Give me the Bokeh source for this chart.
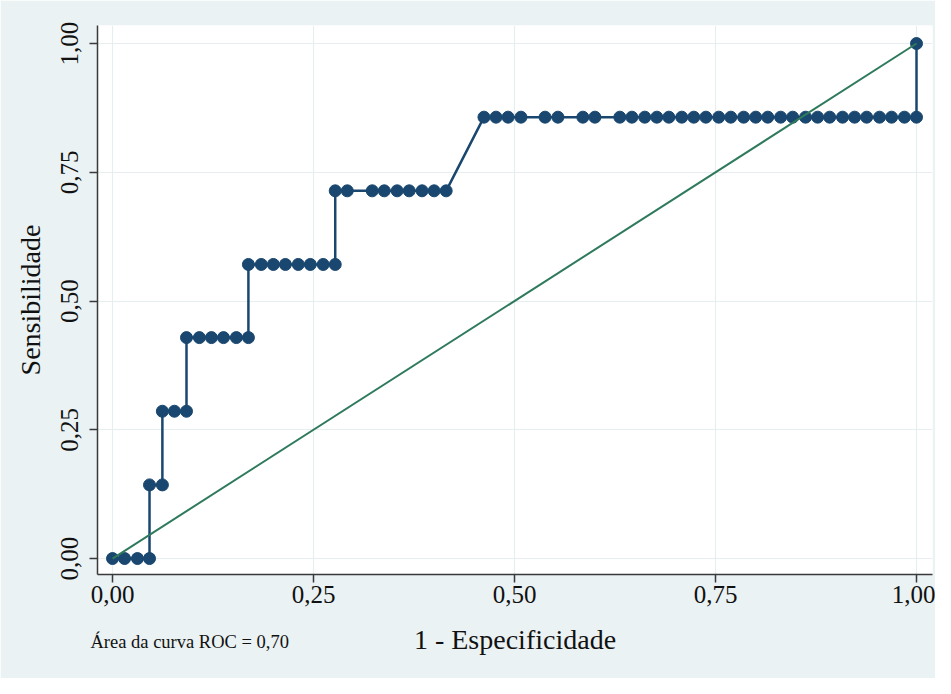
from bokeh.plotting import figure
from bokeh.models import Range1d, FixedTicker, CustomJSTickFormatter, Title
from bokeh.embed import file_html
from bokeh.resources import INLINE

# ROC curve points (1 - specificity, sensitivity)
one_minus_spec = [
    0.000, 0.015, 0.031, 0.046,
    0.046, 0.062,
    0.062, 0.077, 0.092,
    0.092, 0.108, 0.123, 0.138, 0.154, 0.169,
    0.169, 0.185, 0.200, 0.215, 0.231, 0.246, 0.262, 0.277,
    0.277, 0.292, 0.323, 0.338, 0.354, 0.369, 0.385, 0.400, 0.415,
    0.462, 0.477, 0.492, 0.508, 0.538, 0.554, 0.585, 0.600,
    0.631, 0.646, 0.662, 0.677, 0.692, 0.708, 0.723, 0.738, 0.754, 0.769,
    0.785, 0.800, 0.815, 0.831, 0.846, 0.862, 0.877, 0.892, 0.908, 0.923,
    0.938, 0.954, 0.969, 0.985, 1.000,
    1.000,
]
sensitivity = [
    0.000, 0.000, 0.000, 0.000,
    0.143, 0.143,
    0.286, 0.286, 0.286,
    0.429, 0.429, 0.429, 0.429, 0.429, 0.429,
    0.571, 0.571, 0.571, 0.571, 0.571, 0.571, 0.571, 0.571,
    0.714, 0.714, 0.714, 0.714, 0.714, 0.714, 0.714, 0.714, 0.714,
    0.857, 0.857, 0.857, 0.857, 0.857, 0.857, 0.857, 0.857,
    0.857, 0.857, 0.857, 0.857, 0.857, 0.857, 0.857, 0.857, 0.857, 0.857,
    0.857, 0.857, 0.857, 0.857, 0.857, 0.857, 0.857, 0.857, 0.857, 0.857,
    0.857, 0.857, 0.857, 0.857, 0.857,
    1.000,
]
ref_x = [0.0, 1.0]
ref_y = [0.0, 1.0]
tick_values = [0, 0.25, 0.5, 0.75, 1]
tick_labels = ["0,00", "0,25", "0,50", "0,75", "1,00"]
x_title = "1 - Especificidade"
y_title = "Sensibilidade"
note_text = "Área da curva ROC = 0,70"

NAVY = "#1A476F"
GREEN = "#2F7A5C"
BG = "#EAF2F3"
FONT = "Liberation Serif"

p = figure(width=935, height=678, output_backend="svg", toolbar_location=None,
           x_range=Range1d(-0.0187, 1.0199), y_range=Range1d(-0.031, 1.035),
           min_border_left=97, min_border_right=3, min_border_top=25,
           min_border_bottom=104)
p.border_fill_color = BG
p.background_fill_color = "white"
p.outline_line_color = None

fmt = CustomJSTickFormatter(args=dict(tv=tick_values, tl=tick_labels),
                            code="""
    for (let i = 0; i < tv.length; i++) {
        if (Math.abs(tv[i] - tick) < 1e-9) return tl[i];
    }
    return '';
""")

for ax in (p.xaxis[0], p.yaxis[0]):
    ax.ticker = FixedTicker(ticks=tick_values)
    ax.formatter = fmt
    ax.minor_tick_line_color = None
    ax.major_tick_in = 0
    ax.major_tick_out = 8
    ax.axis_line_color = "#3a3a3a"
    ax.axis_line_width = 1.5
    ax.major_tick_line_color = "#3a3a3a"
    ax.major_tick_line_width = 1.5
    ax.major_label_text_font = FONT
    ax.major_label_text_font_size = "25px"
    ax.major_label_text_color = "#111111"
    ax.axis_label_text_font = FONT
    ax.axis_label_text_font_size = "28px"
    ax.axis_label_text_font_style = "normal"
    ax.axis_label_text_color = "#111111"

p.xaxis.axis_label = x_title
p.yaxis.axis_label = y_title
p.xaxis.major_label_standoff = 3
p.xaxis.axis_label_standoff = 18
p.yaxis.major_label_orientation = "vertical"
p.yaxis.major_label_standoff = 11
p.yaxis.axis_label_standoff = 13

for g in (p.xgrid[0], p.ygrid[0]):
    g.ticker = FixedTicker(ticks=tick_values)
    g.grid_line_color = "#E6EEF0"
    g.grid_line_width = 1.2

p.line(one_minus_spec, sensitivity, line_color=NAVY, line_width=2.5)
p.scatter(one_minus_spec, sensitivity, size=12, fill_color=NAVY, line_color=NAVY)
p.line(ref_x, ref_y, line_color=GREEN, line_width=2)

note = Title(text=note_text, align="left", offset=-7, standoff=-52,
             text_font=FONT, text_font_size="18.5px", text_font_style="normal",
             text_color="#111111", vertical_align="top")
p.add_layout(note, "below")

open("out.html", "w").write(file_html(p, INLINE))
